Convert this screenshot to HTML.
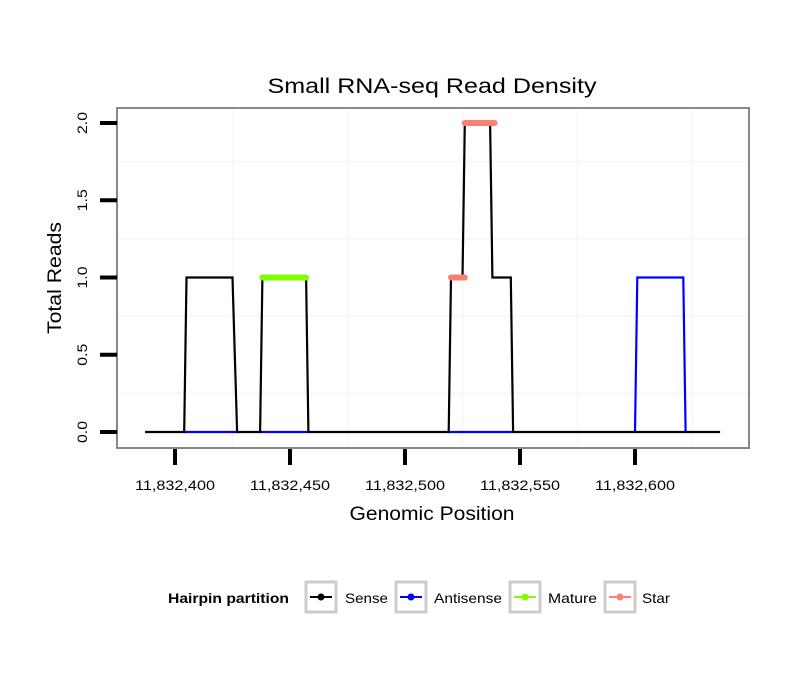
<!DOCTYPE html>
<html><head><meta charset="utf-8"><style>
body{margin:0;background:#fff;}
svg{display:block;font-family:"Liberation Sans",sans-serif;}
</style></head><body>
<svg id="chart" width="810" height="690" viewBox="0 0 810 690">
<rect width="810" height="690" fill="#fff"/>
<text x="432" y="93" font-size="21" text-anchor="middle" textLength="329" lengthAdjust="spacingAndGlyphs">Small RNA-seq Read Density</text>
<rect x="117" y="108" width="632" height="340" fill="#fff"/>
<g id="grid"></g>
<g id="series"></g>
<rect x="117" y="108" width="632" height="340" fill="none" stroke="#888" stroke-width="2"/>
<g id="axes"></g>
<text x="432" y="520" font-size="19" text-anchor="middle" textLength="165" lengthAdjust="spacingAndGlyphs">Genomic Position</text>
<text transform="translate(61,278) rotate(-90)" font-size="19" text-anchor="middle" textLength="112" lengthAdjust="spacingAndGlyphs">Total Reads</text>
<g>
<text x="168" y="603" font-size="14" font-weight="bold" textLength="121" lengthAdjust="spacingAndGlyphs">Hairpin partition</text>
<g>
<rect x="306" y="582" width="30" height="30" fill="#fff" stroke="#ccc" stroke-width="3"/>
<line x1="310" y1="597" x2="332" y2="597" stroke="#000" stroke-width="2"/><circle cx="321" cy="597" r="3.5" fill="#000"/>
<text x="345" y="603" font-size="14" textLength="43" lengthAdjust="spacingAndGlyphs">Sense</text></g>
<g>
<rect x="396" y="582" width="30" height="30" fill="#fff" stroke="#ccc" stroke-width="3"/>
<line x1="400" y1="597" x2="422" y2="597" stroke="#00f" stroke-width="2"/><circle cx="411" cy="597" r="3.5" fill="#00f"/>
<text x="434" y="603" font-size="14" textLength="68" lengthAdjust="spacingAndGlyphs">Antisense</text></g>
<g>
<rect x="510" y="582" width="30" height="30" fill="#fff" stroke="#ccc" stroke-width="3"/>
<line x1="514" y1="597" x2="536" y2="597" stroke="#7fff00" stroke-width="2"/><circle cx="525" cy="597" r="3.5" fill="#7fff00"/>
<text x="548" y="603" font-size="14" textLength="49" lengthAdjust="spacingAndGlyphs">Mature</text></g>
<g>
<rect x="605" y="582" width="30" height="30" fill="#fff" stroke="#ccc" stroke-width="3"/>
<line x1="609" y1="597" x2="631" y2="597" stroke="#fa8072" stroke-width="2"/><circle cx="620" cy="597" r="3.5" fill="#fa8072"/>
<text x="642" y="603" font-size="14" textLength="28" lengthAdjust="spacingAndGlyphs">Star</text></g>
</g>
</svg>
<script>
const xTicks = [11832400, 11832450, 11832500, 11832550, 11832600];
const xTickLabels = ["11,832,400", "11,832,450", "11,832,500", "11,832,550", "11,832,600"];
const yTicks = [0, 0.5, 1, 1.5, 2];
const yTickLabels = ["0.0", "0.5", "1.0", "1.5", "2.0"];
const xGrid = [11832425, 11832475, 11832525, 11832575, 11832625];
const yGrid = [0.25, 0.75, 1.25, 1.75];
const senseX = [11832387,11832404,11832405,11832425,11832427,11832437,11832438,11832457,11832458,11832519,11832520,11832525,11832526,11832537,11832538,11832546,11832547,11832637];
const senseY = [0,0,1,1,0,0,1,1,0,0,1,1,2,2,1,1,0,0];
const antisenseSegX = [[11832404,11832427],[11832437,11832458],[11832519,11832547],[11832600,11832601,11832621,11832622]];
const antisenseSegY = [[0,0],[0,0],[0,0],[0,1,1,0]];
const matureX = [[11832438,11832457]];
const matureY = [1];
const starX = [[11832520,11832526],[11832526,11832539]];
const starY = [1,2];

const NS = "http://www.w3.org/2000/svg";
function sx(v){return 175 + (v - 11832400) * 2.3;}
function sy(v){return 432 - v * 154.5;}
function mk(tag, attrs, parent){const e=document.createElementNS(NS,tag);for(const k in attrs)e.setAttribute(k,attrs[k]);parent.appendChild(e);return e;}
const grid=document.getElementById('grid'), series=document.getElementById('series'), axes=document.getElementById('axes');
xGrid.forEach(v=>{const l=mk('line',{x1:sx(v),x2:sx(v),y1:109,y2:447,stroke:'#f7f7f7','stroke-width':2},grid);

});
yGrid.forEach(v=>{const l=mk('line',{x1:118,x2:748,y1:sy(v),y2:sy(v),stroke:'#f7f7f7','stroke-width':2},grid);

});
function pts(xs,ys){return xs.map((x,i)=>sx(x)+','+sy(ys[i])).join(' ');}
antisenseSegX.forEach((xs,i)=>{const p=mk('polyline',{points:pts(xs,antisenseSegY[i]),fill:'none',stroke:'#00f','stroke-width':2.2},series);

});
const s=mk('polyline',{points:pts(senseX,senseY),fill:'none',stroke:'#000','stroke-width':2.2,'stroke-linejoin':'miter'},series);


matureX.forEach((xs,i)=>{const l=mk('line',{x1:sx(xs[0]),x2:sx(xs[1]),y1:sy(matureY[i]),y2:sy(matureY[i]),stroke:'#7fff00','stroke-width':6,'stroke-linecap':'round'},series);

});
starX.forEach((xs,i)=>{const l=mk('line',{x1:sx(xs[0]),x2:sx(xs[1]),y1:sy(starY[i]),y2:sy(starY[i]),stroke:'#fa8072','stroke-width':6,'stroke-linecap':'round'},series);

});
xTicks.forEach((v,i)=>{const t=mk('line',{x1:sx(v),x2:sx(v),y1:449,y2:465,stroke:'#000','stroke-width':4},axes);


const tx=mk('text',{x:sx(v),y:490,'font-size':14,'text-anchor':'middle',textLength:80,lengthAdjust:'spacingAndGlyphs'},axes);tx.textContent=xTickLabels[i];

});
yTicks.forEach((v,i)=>{const t=mk('line',{x1:100,x2:117,y1:sy(v),y2:sy(v),stroke:'#000','stroke-width':4},axes);


const tx=mk('text',{transform:'translate(87,'+sy(v)+') rotate(-90)','font-size':14,'text-anchor':'middle',textLength:22,lengthAdjust:'spacingAndGlyphs'},axes);tx.textContent=yTickLabels[i];

});
</script>
</body></html>
